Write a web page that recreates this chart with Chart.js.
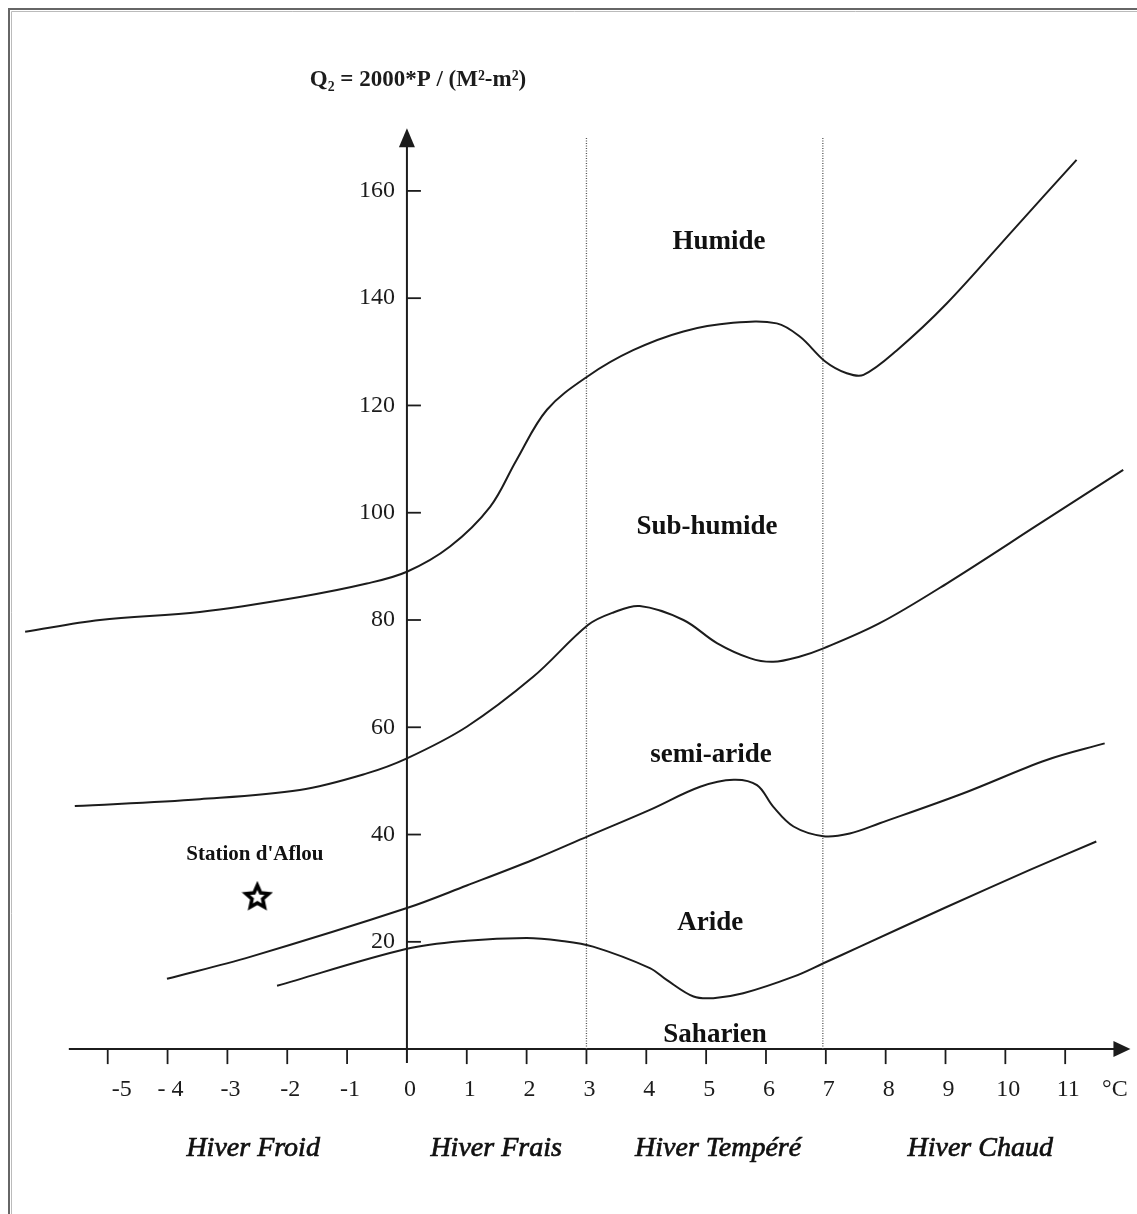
<!DOCTYPE html>
<html>
<head>
<meta charset="utf-8">
<script src="https://cdn.jsdelivr.net/npm/chart.js@4.4.1/dist/chart.umd.min.js"></script>
<style>
  html, body { margin: 0; padding: 0; background: #fff; }
  #wrap { width: 1137px; height: 1214px; }
</style>
</head>
<body>
<div id="wrap"><canvas id="emberger" width="1137" height="1214"></canvas></div>
<script>
// Climagramme d'Emberger - limites des étages bioclimatiques (m en °C, Q2)
const humideT = [-6.38, -5.13, -3.46, -1.79, -0.67, 0, 0.72, 1.39, 1.83, 2.34, 3.03, 3.78, 4.62, 5.45, 6.18, 6.57, 6.99, 7.35, 7.63, 8.19, 9.02, 10.13, 11.19];
const humideQ = [77.8, 80.0, 81.5, 84.3, 86.8, 89.0, 93.7, 101.1, 109.8, 119.2, 125.5, 130.3, 133.8, 135.4, 135.3, 132.8, 128.2, 126.0, 125.7, 130.3, 139.0, 152.7, 165.8];

const subHumideT = [-5.55, -3.46, -1.79, -0.67, 0, 1.0, 2.11, 3.03, 3.45, 3.89, 4.62, 5.18, 5.73, 6.12, 6.57, 6.96, 7.90, 9.02, 10.58, 11.97];
const subHumideQ = [45.3, 46.6, 48.3, 51.4, 54.2, 60.1, 69.4, 79.1, 81.4, 82.6, 80.0, 75.7, 72.9, 72.2, 73.2, 74.7, 79.4, 86.8, 98.0, 108.0];

const semiArideT = [-4.01, -2.62, 0, 1.0, 2.11, 3.03, 4.06, 4.90, 5.46, 5.85, 6.12, 6.46, 6.96, 7.40, 7.90, 9.30, 10.69, 11.66];
const semiArideQ = [13.1, 17.2, 26.3, 30.5, 35.3, 39.7, 44.6, 48.9, 50.2, 49.2, 45.2, 41.5, 39.7, 40.2, 42.1, 47.7, 53.9, 57.0];

const arideT = [-2.17, 0, 1.0, 2.0, 2.56, 3.11, 4.06, 4.34, 4.79, 5.12, 5.62, 6.46, 6.96, 7.57, 9.0, 10.41, 11.52];
const arideQ = [11.8, 18.7, 20.2, 20.7, 20.2, 19.1, 15.1, 12.9, 9.8, 9.5, 10.4, 13.5, 16.0, 19.1, 26.4, 33.4, 38.7];

// limites des types d'hiver (lignes pointillées)
const winterLimitsT = [3, 6.95];
const winterLimitTopQ = 170;

// station
const stationT = [-2.5];
const stationQ = [28.4];

const xTicks = [-5, -4, -3, -2, -1, 0, 1, 2, 3, 4, 5, 6, 7, 8, 9, 10, 11];
const xTickLabels = ['-5', '- 4', '-3', '-2', '-1', '0', '1', '2', '3', '4', '5', '6', '7', '8', '9', '10', '11'];
const yTicks = [20, 40, 60, 80, 100, 120, 140, 160];
const yTickLabels = ['20', '40', '60', '80', '100', '120', '140', '160'];

const zoneNames = ['Humide', 'Sub-humide', 'semi-aride', 'Aride', 'Saharien'];
const winterNames = ['Hiver Froid', 'Hiver Frais', 'Hiver Tempéré', 'Hiver Chaud'];
const yTitle = 'Q\u2082 = 2000*P / (M\u00B2-m\u00B2)';
const xUnit = '°C';
const stationName = "Station d'Aflou";

// placement des textes (coordonnées du graphique)
const zonePos = [[5.215, 150.5], [5.015, 97.3], [5.08, 54.8], [5.07, 23.5], [5.15, 2.6]];
const winterPos = [[-2.57, -18.5], [1.49, -18.5], [5.2, -18.5], [9.58, -18.5]];

const toPoints = (xs, ys) => xs.map((v, i) => ({ x: v, y: ys[i] }));

// étoile de la station
function makeStar() {
    const c = document.createElement('canvas');
    c.width = 32; c.height = 32;
    const g = c.getContext('2d');
    g.beginPath();
    for (let i = 0; i < 10; i++) {
        const r = i % 2 === 0 ? 12 : 5.6;
        const a = -Math.PI / 2 + i * Math.PI / 5;
        const px = 16 + r * Math.cos(a), py = 16.5 + r * Math.sin(a);
        if (i === 0) g.moveTo(px, py); else g.lineTo(px, py);
    }
    g.closePath();
    g.fillStyle = '#fff';
    g.fill();
    g.lineWidth = 3.6;
    g.lineJoin = 'miter';
    g.strokeStyle = '#000';
    g.stroke();
    return c;
}

const curveStyle = {
    borderColor: '#1c1c1c',
    borderWidth: 2,
    pointRadius: 0,
    fill: false,
    tension: 0.35
};

const datasets = [
    { label: 'Humide', data: toPoints(humideT, humideQ), ...curveStyle },
    { label: 'Sub-humide', data: toPoints(subHumideT, subHumideQ), ...curveStyle },
    { label: 'Semi-aride', data: toPoints(semiArideT, semiArideQ), ...curveStyle },
    { label: 'Aride', data: toPoints(arideT, arideQ), ...curveStyle }
];
winterLimitsT.forEach(t => {
    datasets.push({
        label: 'limite ' + t,
        data: [{ x: t, y: 0 }, { x: t, y: winterLimitTopQ }],
        borderColor: '#555',
        borderWidth: 1.3,
        borderDash: [1, 1.5],
        pointRadius: 0,
        tension: 0
    });
});
datasets.push({
    label: stationName,
    type: 'scatter',
    data: toPoints(stationT, stationQ),
    pointStyle: makeStar(),
    pointRadius: 12
});

const serif = '"Liberation Serif", "Times New Roman", serif';

const diagramPlugin = {
    id: 'diagram',
    beforeDatasetsDraw(chart) {
        const { ctx } = chart;
        const xs = chart.scales.x, ys = chart.scales.y;
        const x0 = xs.getPixelForValue(0), y0 = ys.getPixelForValue(0);

        ctx.save();
        // cadre
        ctx.strokeStyle = '#666';
        ctx.lineWidth = 2;
        ctx.beginPath();
        ctx.moveTo(9, chart.height);
        ctx.lineTo(9, 9);
        ctx.lineTo(chart.width, 9);
        ctx.stroke();
        ctx.strokeStyle = '#bbb';
        ctx.lineWidth = 1;
        ctx.beginPath();
        ctx.moveTo(11.5, chart.height);
        ctx.lineTo(11.5, 11.5);
        ctx.lineTo(chart.width, 11.5);
        ctx.stroke();

        ctx.strokeStyle = '#1c1c1c';
        ctx.fillStyle = '#1c1c1c';
        ctx.lineWidth = 2;

        // axe des x
        const xStart = xs.getPixelForValue(-5.65), xEnd = xs.getPixelForValue(12.09);
        ctx.beginPath();
        ctx.moveTo(xStart, y0);
        ctx.lineTo(xEnd - 12, y0);
        ctx.stroke();
        ctx.beginPath();
        ctx.moveTo(xEnd, y0);
        ctx.lineTo(xEnd - 17, y0 - 8);
        ctx.lineTo(xEnd - 17, y0 + 8);
        ctx.closePath();
        ctx.fill();

        // axe des y
        const yTop = ys.getPixelForValue(171.7), yBottom = ys.getPixelForValue(-2.6);
        ctx.beginPath();
        ctx.moveTo(x0, yBottom);
        ctx.lineTo(x0, yTop + 12);
        ctx.stroke();
        ctx.beginPath();
        ctx.moveTo(x0, yTop);
        ctx.lineTo(x0 - 8, yTop + 19);
        ctx.lineTo(x0 + 8, yTop + 19);
        ctx.closePath();
        ctx.fill();

        // graduations
        ctx.lineWidth = 1.8;
        ctx.font = '24px ' + serif;
        ctx.textBaseline = 'middle';
        ctx.textAlign = 'center';
        xTicks.forEach((t, i) => {
            const px = xs.getPixelForValue(t);
            if (t !== 0) {
                ctx.beginPath();
                ctx.moveTo(px, y0);
                ctx.lineTo(px, y0 + 15);
                ctx.stroke();
            }
            const shift = t === -5 ? 14 : 3;
            ctx.fillText(xTickLabels[i], px + shift, ys.getPixelForValue(-7.6));
        });
        ctx.fillText(xUnit, xs.getPixelForValue(11.83), ys.getPixelForValue(-7.6));

        ctx.textAlign = 'right';
        yTicks.forEach((q, i) => {
            const py = ys.getPixelForValue(q);
            ctx.beginPath();
            ctx.moveTo(x0, py);
            ctx.lineTo(x0 + 14, py);
            ctx.stroke();
            ctx.fillText(yTickLabels[i], x0 - 12, py);
        });

        // titre de l'axe des y
        ctx.textAlign = 'center';
        ctx.font = 'bold 23px ' + serif;
        ctx.fillText(yTitle, xs.getPixelForValue(0.185), ys.getPixelForValue(180.7));
        ctx.restore();
    },
    afterDatasetsDraw(chart) {
        const { ctx } = chart;
        const xs = chart.scales.x, ys = chart.scales.y;
        ctx.save();
        ctx.fillStyle = '#111';
        ctx.textAlign = 'center';
        ctx.textBaseline = 'middle';

        ctx.font = 'bold 27px ' + serif;
        zoneNames.forEach((name, i) => {
            ctx.fillText(name, xs.getPixelForValue(zonePos[i][0]), ys.getPixelForValue(zonePos[i][1]));
        });

        ctx.font = 'italic 28px ' + serif;
        ctx.strokeStyle = '#111';
        ctx.lineWidth = 0.7;
        winterNames.forEach((name, i) => {
            const px = xs.getPixelForValue(winterPos[i][0]), py = ys.getPixelForValue(winterPos[i][1]);
            ctx.fillText(name, px, py);
            ctx.strokeText(name, px, py);
        });

        ctx.font = 'bold 21px ' + serif;
        ctx.fillText(stationName, xs.getPixelForValue(-2.54), ys.getPixelForValue(36.2));
        ctx.restore();
    }
};

new Chart(document.getElementById('emberger'), {
    type: 'line',
    data: { datasets: datasets },
    options: {
        responsive: false,
        animation: false,
        devicePixelRatio: 1,
        events: [],
        layout: { autoPadding: false, padding: { top: 30, bottom: 4, left: 0, right: 0 } },
        scales: {
            x: { type: 'linear', min: -6.8, max: 12.2, display: false },
            y: { type: 'linear', min: -30, max: 190, display: false }
        },
        plugins: {
            legend: { display: false },
            tooltip: { enabled: false }
        }
    },
    plugins: [diagramPlugin]
});
</script>
</body>
</html>
